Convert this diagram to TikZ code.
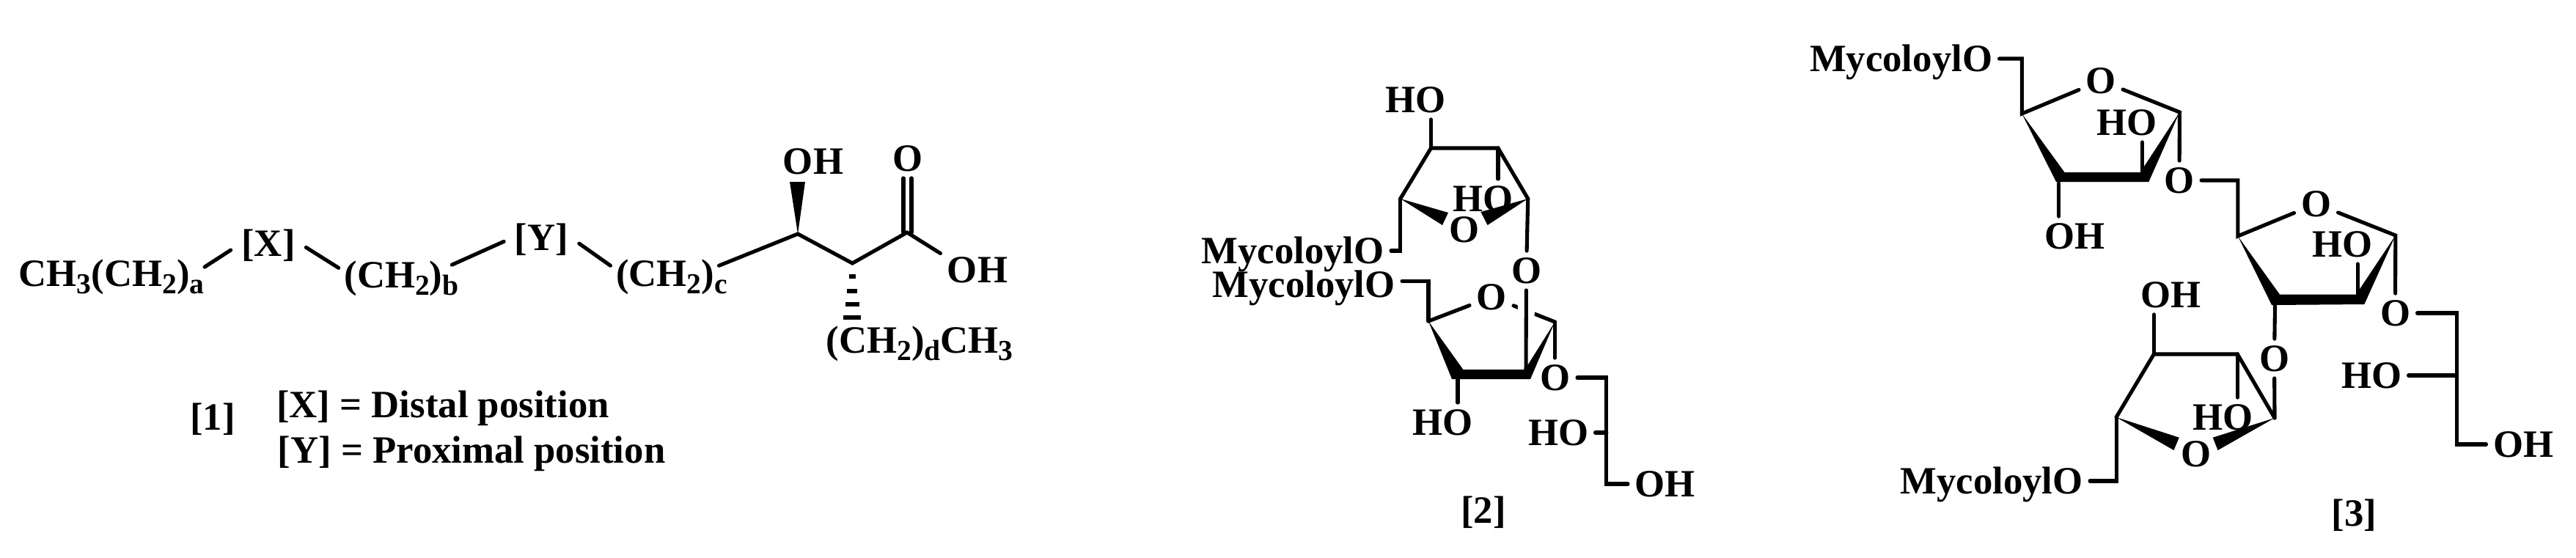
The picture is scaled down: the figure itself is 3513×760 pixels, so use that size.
\documentclass[tikz,border=0pt]{standalone}
\usepackage{fontspec}
\setmainfont{Liberation Serif}
\newcommand{\low}[1]{\raisebox{-2.85pt}{\scalebox{0.75}{#1}}}
\tikzset{
  lbl/.style={font=\fontsize{15}{18}\selectfont\bfseries, inner sep=2.5pt, text height=9.9pt, text depth=0pt},
  chaintxt/.style={lbl, inner sep=0pt},
  slot/.style={lbl, inner sep=4pt},
  bond/.style={line width=1.45pt, line cap=round},
  hashbar/.style={line width=1.45pt},
  halo/.style={white, line width=6.5pt},
  wedgefill/.style={fill=black, draw=none}
}

\begin{document}
\begin{tikzpicture}[x=0.01cm,y=-0.01cm]
  \useasboundingbox (0,0) rectangle (3513,760);

  % [1]
  \node[chaintxt] (chainA) at (152,373) {CH\low{3}(CH\low{2})\low{a}};
  \node[slot] (slotX) at (366,332) {[X]};
  \node[chaintxt] (chainB) at (547.5,375) {(CH\low{2})\low{b}};
  \node[slot] (slotY) at (738.5,324) {[Y]};
  \node[chaintxt] (chainC) at (916,373) {(CH\low{2})\low{c}};
  \node[lbl] (oh1a) at (1109,220) {OH};
  \node[lbl] (oKeto) at (1237.5,216) {O};
  \node[lbl] (oh1b) at (1333,368) {OH};
  \node[chaintxt] (chainD) at (1254,464) {(CH\low{2})\low{d}CH\low{3}};
  \node[lbl] (lab1) at (290,569) {[1]};
  \node[lbl] (noteX) at (604,552) {[X] = Distal position};
  \node[lbl] (noteY) at (643,614) {[Y] = Proximal position};
  \coordinate (c1a) at (1088,319);
  \coordinate (c1b) at (1162.4,359);
  \coordinate (c1c) at (1237,317);
  \coordinate (c1l) at (1232,317);
  \coordinate (c1r) at (1243,317);
  \draw[bond] (chainA.4) -- (slotX.190);
  \draw[bond] (slotX.-6) -- ([xshift=-2pt]chainB.173);
  \draw[bond] ([xshift=-2.8pt]chainB.10) -- (slotY.186);
  \draw[bond] (slotY.-9) -- ([xshift=-2pt]chainC.172);
  \draw[bond] ([xshift=-3.4pt]chainC.8) -- (c1a) -- (c1b) -- (c1c) -- (oh1b.156);
  \draw[bond] (c1l) -- (c1l |- oKeto.south);
  \draw[bond] (c1r) -- (c1r |- oKeto.south);
  \fill[wedgefill] (c1a) -- (1077,248) -- (1098,248) -- cycle;
  \draw[hashbar] (1158,377) -- (1167,377);
  \draw[hashbar] (1155,397) -- (1169,397);
  \draw[hashbar] (1153,415) -- (1172,415);
  \draw[hashbar] (1150,433) -- (1174,433);

  % [2]
  \node[lbl] (ho2a) at (1930.5,136) {HO};
  \node[lbl] (ho2b) at (2022,271) {HO};
  \node[lbl] (o2a) at (1997,313) {O};
  \node[lbl] (myc2a) at (1763,342) {MycoloylO};
  \node[lbl] (o2b) at (2081.5,369) {O};
  \node[lbl] (myc2b) at (1778,388) {MycoloylO};
  \node[lbl] (o2c) at (2034,405) {O};
  \node[lbl] (o2d) at (2121,515) {O};
  \node[lbl] (ho2c) at (1967,576) {HO};
  \node[lbl] (ho2d) at (2125,590) {HO};
  \node[lbl] (oh2) at (2270.5,660) {OH};
  \node[lbl] (lab2) at (2023,696) {[2]};
  \coordinate (c2a) at (1951.5,202);
  \coordinate (c2b) at (2043,202);
  \coordinate (c2c) at (2083.7,271);
  \coordinate (c2d) at (1909.7,271);
  \coordinate (c2e) at (1948,438);
  \coordinate (c2f) at (2120.4,439);
  \coordinate (c2g) at (2081,505);
  \coordinate (c2h) at (1988,517);
  \coordinate (c2i) at (2190.8,660);
  \draw[bond] (c2a) -- (c2a |- ho2a.south);
  \draw[bond] (c2d) -- (c2a) -- (c2b) -- (c2c);
  \draw[bond] (c2b) -- (c2b |- ho2b.north);
  \fill[wedgefill] (c2d) -- (1975,290) -- (1967,307) -- cycle;
  \fill[wedgefill] (c2c) -- (2019.4,289) -- (2028.6,307) -- cycle;
  \draw[bond] (myc2a.east) -| (c2d);
  \draw[bond] (c2c) -- (o2b);
  \draw[bond] (myc2b.2) -| (c2e);
  \draw[bond] (c2e) -- (o2c);
  \draw[bond] (o2c) -- (c2f);
  \draw[halo] (o2b) -- (c2g);
  \draw[bond] (o2b) -- (c2g);
  \fill[wedgefill] (c2e) -- (1995.4,504) -- (2079.6,504) -- (c2f) -- (2087,517) -- (1980,517) -- cycle;
  \draw[bond] (c2f) -- (c2f |- o2d.north);
  \draw[bond] (c2h) -- (c2h |- ho2c.north);
  \draw[bond] (o2d.east) -| (c2i) -- (oh2.west);
  \draw[bond] (ho2d.east) -- (ho2d.east -| c2i);

  % [3]
  \node[lbl] (myc3a) at (2592.5,80) {MycoloylO};
  \node[lbl] (o3a) at (2865,110) {O};
  \node[lbl] (ho3a) at (2900,167) {HO};
  \node[lbl] (o3b) at (2972,246) {O};
  \node[lbl] (oh3a) at (2829.5,322) {OH};
  \node[lbl] (o3c) at (3158.5,278) {O};
  \node[lbl] (ho3b) at (3194.5,333) {HO};
  \node[lbl] (o3d) at (3266.5,427) {O};
  \node[lbl] (ho3c) at (3234,512) {HO};
  \node[lbl] (oh3b) at (3441,606) {OH};
  \node[lbl] (o3e) at (3101.5,489) {O};
  \node[lbl] (oh3c) at (2960,402) {OH};
  \node[lbl] (ho3d) at (3031,569) {HO};
  \node[lbl] (o3f) at (2994.5,619) {O};
  \node[lbl] (myc3b) at (2716,656) {MycoloylO};
  \node[lbl] (lab3) at (3210.5,700) {[3]};
  \coordinate (c3a) at (2757.3,155);
  \coordinate (c3b) at (2972.4,153);
  \coordinate (c3c) at (2921.5,235);
  \coordinate (c3d) at (2807.8,250);
  \coordinate (c3e) at (3051.8,322);
  \coordinate (c3f) at (3266.8,321);
  \coordinate (c3g) at (3215,403);
  \coordinate (c3h) at (3102.5,415);
  \coordinate (c3i) at (3350,606);
  \coordinate (c3j) at (3102,570);
  \coordinate (c3k) at (2937.3,483);
  \coordinate (c3l) at (3051.3,483);
  \coordinate (c3m) at (2886,569);
  \draw[bond] (myc3a.east) -| (c3a) -- (o3a) -- (c3b) -- (o3b);
  \fill[wedgefill] (c3a) -- (2815.5,235) -- (2918.8,235) -- (c3b) -- (2930.3,248) -- (2804,248) -- cycle;
  \draw[bond] (c3c) -- (c3c |- ho3a.south);
  \draw[bond] (c3d) -- (c3d |- oh3a.north);
  \draw[bond] (o3b.east) -| (c3e) -- (o3c) -- (c3f) -- (o3d);
  \fill[wedgefill] (c3e) -- (3109,401.7) -- (3213,401.7) -- (c3f) -- (3224.3,415) -- (3098,416) -- cycle;
  \draw[bond] (c3g) -- (c3g |- ho3b.south);
  \draw[bond] (c3h) -- (o3e) -- (c3j);
  \draw[bond] (o3d.east) -| (c3i) -- (oh3b.west);
  \draw[bond] (ho3c.east) -- (ho3c.east -| c3i);
  \draw[bond] (c3m) -- (c3k) -- (c3l) -- (c3j);
  \draw[bond] (c3k) -- (c3k |- oh3c.south);
  \draw[bond] (c3l) -- (c3l |- ho3d.north);
  \fill[wedgefill] (c3m) -- (2971.7,596.7) -- (2964.5,614) -- cycle;
  \fill[wedgefill] (c3j) -- (3017.7,596.7) -- (3024.5,614) -- cycle;
  \draw[bond] (myc3b.east) -| (c3m);
\end{tikzpicture}
\end{document}
